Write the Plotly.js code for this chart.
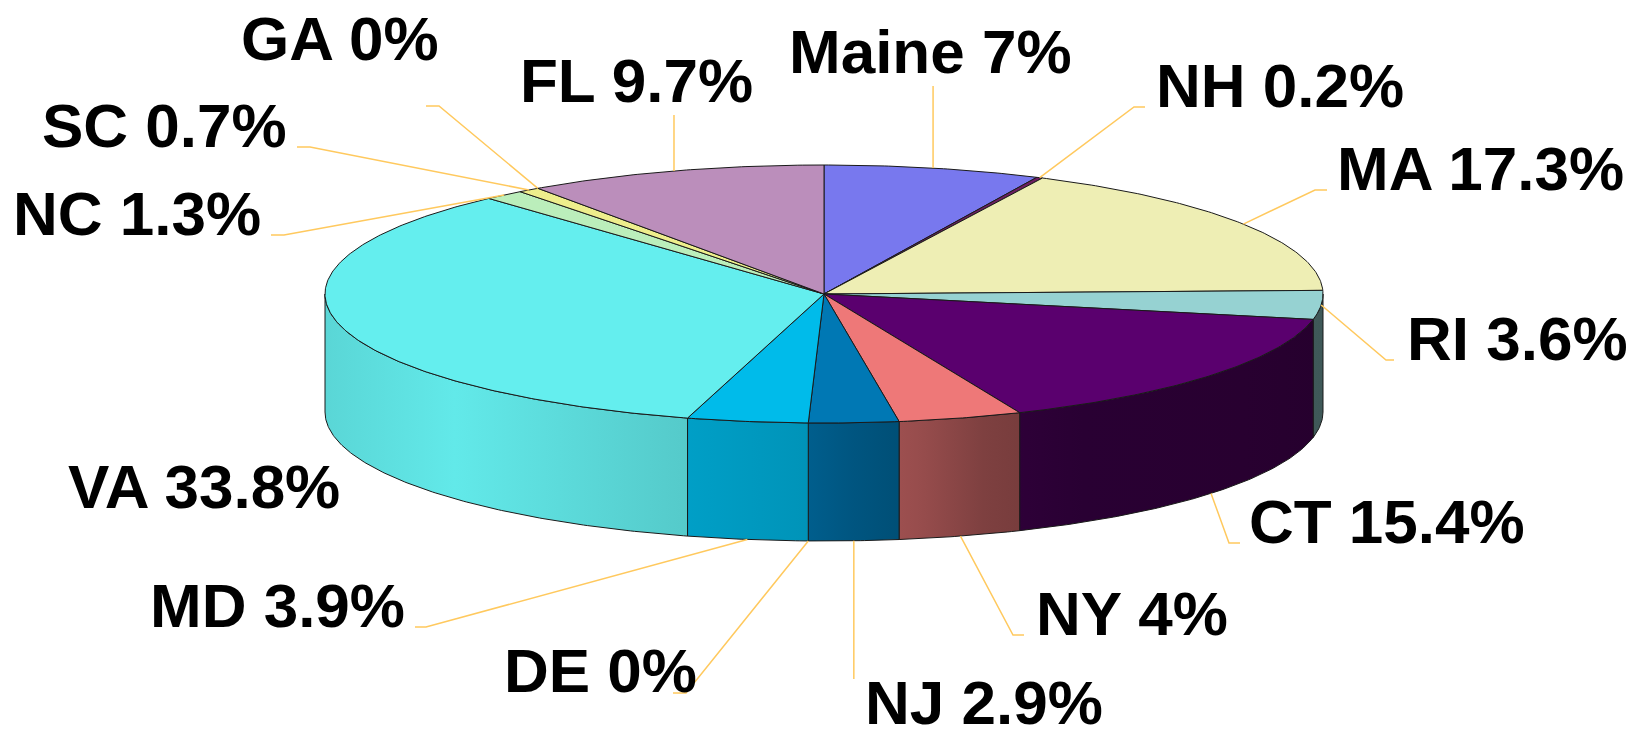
<!DOCTYPE html>
<html>
<head>
<meta charset="utf-8">
<script src="https://cdn.plot.ly/plotly-3.0.1.min.js"></script>
<style>html,body{margin:0;padding:0;background:#fff;}#chart{width:1648px;height:739px;}</style>
</head>
<body>
<div id="chart"></div>
<script>
// ---- data ----
const categories = ['Maine','NH','MA','RI','CT','NY','NJ','DE','MD','VA','NC','SC','GA','FL'];
const values = [7, 0.2, 17.3, 3.6, 15.4, 4, 2.9, 0, 3.9, 33.8, 1.3, 0.7, 0, 9.7];

// ---- styles ----
const sliceColors = [
  [120,120,238], [110,30,96], [238,238,180], [150,210,210], [90,0,110], [238,120,120],
  [0,120,180], [0,150,200], [0,187,234], [100,238,238], [187,238,187], [238,238,140],
  [238,238,120], [187,142,187]
];
// pie geometry (pixels)
const W = 1648, H = 739;
const CX = 824, CY = 294, RX = 499, RY = 129, DEPTH = 118;
// side lighting factor vs horizontal position across the pie
const SHADE = [[0,0.90],[0.13,0.98],[0.34,0.86],[0.48,0.79],[0.53,0.71],[0.6,0.63],[0.66,0.53],[0.76,0.46],[0.92,0.44],[1,0.42]];
// label placement: [x, baseline y, xanchor]; leader points after slice anchor (null x = keep anchor x)
const labelPlacement = {
  'Maine': {x:787, y:73, a:'left', pts:[[null,86]]},
  'NH':    {x:1154, y:107, a:'left', pts:[[1134,107],[1145,107]]},
  'MA':    {x:1335, y:190, a:'left', pts:[[1315,190],[1327,190]]},
  'RI':    {x:1405, y:360, a:'left', pts:[[1386,360],[1394,360]]},
  'CT':    {x:1247, y:543, a:'left', pts:[[1229,543],[1240,543]]},
  'NY':    {x:1034, y:635, a:'left', pts:[[1013,635],[1024,635]]},
  'NJ':    {x:863, y:724, a:'left', pts:[[null,679]]},
  'DE':    {x:502, y:692, a:'left', pts:[[686,693],[673,693]]},
  'MD':    {x:407, y:627, a:'right', pts:[[426,627],[415,627]]},
  'VA':    {x:342, y:508, a:'right', pts:null},
  'NC':    {x:263, y:235, a:'right', pts:[[284,235],[271,235]]},
  'SC':    {x:289, y:147, a:'right', pts:[[310,147],[297,147]]},
  'GA':    {x:441, y:60, a:'right', pts:[[439,106],[426,106]]},
  'FL':    {x:518, y:102, a:'left', pts:[[null,115]]}
};
const FONT_SIZE = 62;

function pt(deg, dy) {
  const r = deg * Math.PI / 180;
  return [CX + RX * Math.sin(r), CY - RY * Math.cos(r) + (dy || 0)];
}
function rgb(c, f) {
  const k = f === undefined ? 1 : f;
  return 'rgb(' + c.map(v => Math.max(0, Math.min(255, Math.round(v * k)))).join(',') + ')';
}
function arc(a1, a2, dy) {
  const out = [];
  const n = Math.max(2, Math.ceil(Math.abs(a2 - a1) / 0.5));
  for (let i = 0; i <= n; i++) out.push(pt(a1 + (a2 - a1) * i / n, dy));
  return out;
}

const total = values.reduce((s, v) => s + v, 0);
const starts = [], ends = [];
let acc = 0;
values.forEach(v => { starts.push(acc / total * 360); acc += v; ends.push(acc / total * 360); });

const traces = [];
// side faces (front half of the cylinder)
values.forEach((v, i) => {
  const lo = Math.max(starts[i], 90), hi = Math.min(ends[i], 270);
  if (hi - lo <= 0) return;
  const top = arc(lo, hi, 0), bot = arc(hi, lo, DEPTH);
  const p = top.concat(bot); p.push(top[0]);
  traces.push({
    type: 'scatter', mode: 'lines', x: p.map(q => q[0]), y: p.map(q => q[1]),
    fill: 'toself', fillcolor: rgb(sliceColors[i], 0.7),
    fillgradient: { type: 'horizontal', start: CX - RX, stop: CX + RX,
      colorscale: SHADE.map(s => [s[0], rgb(sliceColors[i], s[1])]) },
    line: { color: '#1a1a1a', width: 1 }, hoverinfo: 'skip', showlegend: false
  });
});
// top faces
values.forEach((v, i) => {
  if (v <= 0) return;
  const p = [[CX, CY]].concat(arc(starts[i], ends[i], 0)); p.push([CX, CY]);
  traces.push({
    type: 'scatter', mode: 'lines', x: p.map(q => q[0]), y: p.map(q => q[1]),
    fill: 'toself', fillcolor: rgb(sliceColors[i]),
    line: { color: '#1a1a1a', width: 1 }, hoverinfo: 'skip', showlegend: false
  });
});
// leader lines and labels
const lx = [], ly = [];
const annotations = [];
categories.forEach((c, i) => {
  const L = labelPlacement[c];
  annotations.push({
    xref: 'paper', yref: 'paper', x: L.x / W, y: 1 - (L.y + FONT_SIZE * 0.24) / H,
    xanchor: L.a, yanchor: 'bottom',
    text: c + ' ' + values[i] + '%', showarrow: false,
    font: { family: 'Liberation Sans, Arial, sans-serif', size: FONT_SIZE, color: '#000', weight: 'bold' }
  });
  if (!L.pts) return;
  const mid = (starts[i] + ends[i]) / 2;
  const s = (mid > 100 && mid < 260) ? pt(mid, DEPTH) : pt(mid, 0);
  lx.push(s[0]); ly.push(s[1]);
  L.pts.forEach(q => { lx.push(q[0] === null ? s[0] : q[0]); ly.push(q[1]); });
  lx.push(null); ly.push(null);
});
traces.push({ type: 'scatter', mode: 'lines', x: lx, y: ly, line: { color: '#ffc95e', width: 1.5 },
  hoverinfo: 'skip', showlegend: false, connectgaps: false });

const layout = {
  width: W, height: H, margin: { l: 0, r: 0, t: 0, b: 0 },
  paper_bgcolor: '#ffffff', plot_bgcolor: '#ffffff',
  xaxis: { range: [0, W], visible: false, fixedrange: true },
  yaxis: { range: [H, 0], visible: false, fixedrange: true },
  annotations: annotations, showlegend: false
};
Plotly.newPlot('chart', traces, layout, { staticPlot: true, displayModeBar: false });
</script>
</body>
</html>
